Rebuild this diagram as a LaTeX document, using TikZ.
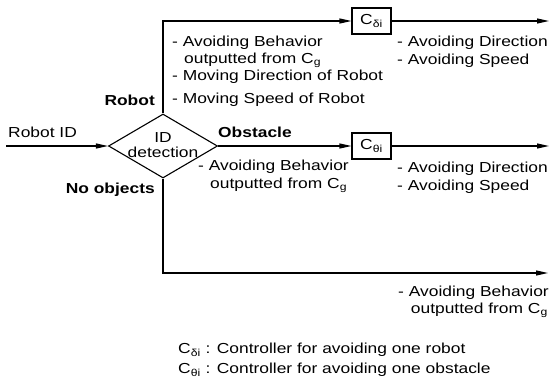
\documentclass[tikz,border=0pt]{standalone}
\usepackage{fontspec}
\setmainfont{Liberation Sans}[FakeStretch=1.2]
\usetikzlibrary{shapes.geometric,arrows.meta}
\begin{document}
\begin{tikzpicture}[x=1pt,y=-1pt,
  line/.style={line width=1.1pt},
  arr/.style={line width=1.1pt,-{Triangle[length=12pt,width=5pt]}},
  txt/.style={anchor=west,inner sep=0pt,font=\fontsize{14.5}{17}\selectfont},
  btxt/.style={txt,font=\fontsize{14.5}{17}\selectfont\bfseries},
  ctrl/.style={draw,line width=1.1pt,minimum width=39pt,minimum height=26pt,inner sep=0pt,font=\fontsize{14.5}{17}\selectfont},
  detbox/.style={draw,diamond,line width=1.1pt,minimum width=109pt,minimum height=64pt,inner sep=0pt}]
\useasboundingbox (0,0) rectangle (552,388);

\node[detbox] (d) at (163,146) {};
\node[inner sep=0pt,align=center,font=\fontsize{14.5}{17}\selectfont] (dt) at (163,145) {ID\\[-2pt]detection};

\coordinate (rin) at (6,146);
\draw[arr] (rin) -- (d.west);

\node[ctrl] (cb) at (371.5,21) {C\textsubscript{δi}};
\coordinate (tend) at (549,21);
\draw[arr] (d.north) |- (cb.west);
\draw[arr] (cb) -- (tend);

\node[ctrl] (co) at (371.5,146) {C\textsubscript{θi}};
\coordinate (mend) at (549,146);
\draw[arr] (d.east) -- (co.west);
\draw[arr] (co) -- (mend);

\coordinate (bend) at (548,273);
\draw[arr] (d.south) |- (bend);

\node[txt] (t1) at (172,43) {- Avoiding Behavior};
\node[txt] (t2) at (184,60) {outputted from C\textsubscript{g}};
\node[txt] (t3) at (172,77) {- Moving Direction of Robot};
\node[txt] (t4) at (172,100) {- Moving Speed of Robot};
\node[btxt,anchor=east] (robot) at (155,100) {Robot};
\node[txt] (t5) at (397,43) {- Avoiding Direction};
\node[txt] (t6) at (397,61) {- Avoiding Speed};

\node[btxt] (obs) at (218,132) {Obstacle};
\node[txt] (m1) at (198,167) {- Avoiding Behavior};
\node[txt] (m2) at (210,185) {outputted from C\textsubscript{g}};
\node[txt] (m3) at (397,169) {- Avoiding Direction};
\node[txt] (m4) at (397,187) {- Avoiding Speed};

\node[btxt,anchor=east] (noobj) at (155,190) {No objects};
\node[txt] (rid) at (8,132) {Robot ID};

\node[txt,anchor=east] (b1) at (549,293) {- Avoiding Behavior};
\node[txt,anchor=east] (b2) at (548,310) {outputted from C\textsubscript{g}};

\node[txt] (l1) at (178,350) {C\textsubscript{δi} : Controller for avoiding one robot};
\node[txt] (l2) at (178,370) {C\textsubscript{θi} : Controller for avoiding one obstacle};
\end{tikzpicture}
\end{document}
